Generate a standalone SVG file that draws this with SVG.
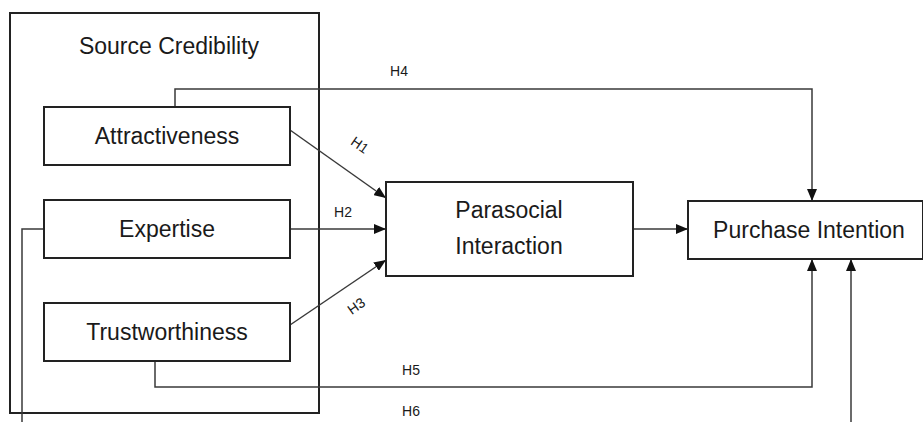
<svg xmlns="http://www.w3.org/2000/svg" width="923" height="422" viewBox="0 0 923 422">
  <style>
    .box { fill: #ffffff; stroke: #222222; stroke-width: 2; }
    .frame { fill: none; stroke: #222222; stroke-width: 2; }
    .lbl { font-family: "Liberation Sans", Arial, sans-serif; font-size: 23px; fill: #1a1a1a; text-anchor: middle; }
    .hyp { font-family: "Liberation Sans", Arial, sans-serif; font-size: 14px; fill: #1a1a1a; text-anchor: middle; }
    .link { fill: none; stroke: #3a3a3a; stroke-width: 1.5; }
  </style>
  <defs>
    <marker id="arrow" viewBox="0 0 12 10" refX="12" refY="5" markerWidth="12" markerHeight="10" markerUnits="userSpaceOnUse" orient="auto">
      <path d="M0,0 L12,5 L0,10 Z" fill="#111111"/>
    </marker>
  </defs>

  <rect width="923" height="422" fill="#ffffff"/>

  <!-- Source credibility frame -->
  <g id="source-credibility">
    <rect class="frame" x="10" y="13" width="309" height="400"/>
    <text class="lbl" x="169" y="54">Source Credibility</text>
  </g>

  <g id="connectors">
    <!-- H4: Attractiveness to Purchase Intention (over the top) -->
    <polyline class="link" points="175,107 175,89 812,89 812,201" marker-end="url(#arrow)"/>
    <!-- H1 -->
    <line class="link" x1="290" y1="130" x2="386" y2="198" marker-end="url(#arrow)"/>
    <!-- H2 -->
    <line class="link" x1="290" y1="229" x2="386" y2="229" marker-end="url(#arrow)"/>
    <!-- H3 -->
    <line class="link" x1="290" y1="325" x2="386" y2="260" marker-end="url(#arrow)"/>
    <!-- Parasocial Interaction to Purchase Intention -->
    <line class="link" x1="633" y1="229" x2="688" y2="229" marker-end="url(#arrow)"/>
    <!-- H5: Trustworthiness to Purchase Intention (underneath) -->
    <polyline class="link" points="155,362 155,387 812,387 812,259" marker-end="url(#arrow)"/>
    <!-- H6: Expertise to Purchase Intention (runs below the frame) -->
    <polyline class="link" points="44,229 22,229 22,422"/>
    <line class="link" x1="851" y1="422" x2="851" y2="259" marker-end="url(#arrow)"/>
  </g>

  <g id="hypothesis-labels">
    <text class="hyp" x="399" y="76">H4</text>
    <text class="hyp" transform="translate(357,149) rotate(35)">H1</text>
    <text class="hyp" x="343" y="217">H2</text>
    <text class="hyp" transform="translate(359,310) rotate(-35)">H3</text>
    <text class="hyp" x="411" y="375">H5</text>
    <text class="hyp" x="411" y="416">H6</text>
  </g>

  <g id="attractiveness">
    <rect class="box" x="44" y="107" width="246" height="58"/>
    <text class="lbl" x="167" y="144">Attractiveness</text>
  </g>

  <g id="expertise">
    <rect class="box" x="44" y="200" width="246" height="58"/>
    <text class="lbl" x="167" y="237">Expertise</text>
  </g>

  <g id="trustworthiness">
    <rect class="box" x="44" y="303" width="246" height="58"/>
    <text class="lbl" x="167" y="340">Trustworthiness</text>
  </g>

  <g id="parasocial-interaction">
    <rect class="box" x="386" y="182" width="247" height="94"/>
    <text class="lbl" x="509" y="218">Parasocial</text>
    <text class="lbl" x="509" y="254">Interaction</text>
  </g>

  <g id="purchase-intention">
    <rect class="box" x="688" y="201" width="235" height="58"/>
    <text class="lbl" x="809" y="238">Purchase Intention</text>
  </g>
</svg>
